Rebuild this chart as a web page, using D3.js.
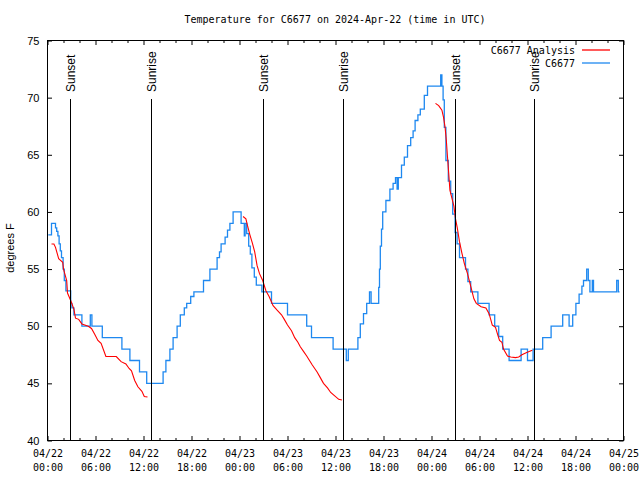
<!DOCTYPE html>
<html><head><meta charset="utf-8">
<script src="https://cdn.jsdelivr.net/npm/d3@7"></script>
<style>body{margin:0;background:#fff}</style>
</head><body>
<svg id="chart" width="640" height="480"></svg>
<script>
// ---- DATA (hours after 2024-04-22 00:00 UTC) ----
const titleText = "Temperature for C6677 on 2024-Apr-22 (time in UTC)";
const yLabel = "degrees F";
const yTicks = [40, 45, 50, 55, 60, 65, 70, 75];
const seriesNames = ["C6677 Analysis", "C6677"];
const seriesColors = ["#ff0000", "#1e88f0"];

const obsHours = [0.1,0.5,1.0,1.15,1.3,1.45,1.6,1.75,1.95,2.1,2.3,2.9,3.05,3.3,4.3,5.35,5.55,6.85,9.3,10.3,11.5,12.4,
  14.45,14.8,15.3,15.7,16.2,16.6,17.1,17.4,17.9,18.3,19.5,20.3,21.2,21.5,21.7,22.2,22.5,22.8,23.2,24.2,24.6,24.7,24.9,
  25.15,25.35,25.55,25.85,26.1,26.8,28.0,30.0,32.4,33.0,35.7,37.35,37.6,38.8,39.1,39.5,39.9,40.25,40.45,41.4,41.5,41.6,
  41.75,41.9,42.3,42.8,43.2,43.5,43.7,43.85,44.25,44.6,45.0,45.4,45.7,45.95,46.3,46.6,47.1,47.5,49.15,49.3,49.45,49.6,
  49.8,50.1,50.4,50.65,50.95,51.2,51.5,52.25,52.55,52.9,53.8,55.2,55.9,56.4,56.9,57.7,59.2,60.0,60.7,61.9,62.95,64.4,
  65.2,65.65,66.05,66.45,66.8,67.0,67.4,67.6,67.8,68.1,68.25,71.15,71.35,71.5];
const obsTemps = [58.0,59.0,58.6,58.3,57.9,57.2,56.6,56.0,55.0,54.0,53.1,52.0,51.6,51.0,50.0,51.0,50.0,49.0,48.0,47.0,46.0,45.0,
  46.0,47.0,48.0,49.0,50.0,51.0,51.6,52.0,52.6,53.0,54.0,55.0,56.0,56.5,57.2,57.8,58.4,59.0,60.0,59.0,57.9,59.0,58.1,
  57.0,56.3,55.1,54.3,53.6,53.0,52.0,51.0,50.0,49.0,48.0,47.0,48.0,49.0,50.2,51.1,52.0,53.0,52.0,53.4,55.0,57.0,
  58.5,60.0,61.0,62.0,62.5,63.0,62.0,63.0,64.1,64.8,65.8,66.5,67.1,68.0,68.5,69.0,70.2,71.0,72.0,71.0,69.8,67.4,
  64.5,62.7,61.6,59.8,58.2,57.2,56.0,55.0,53.9,53.0,52.0,51.0,50.0,49.1,48.0,47.0,48.0,47.0,48.0,49.0,50.0,51.0,
  50.0,51.0,52.0,52.8,53.5,54.0,55.0,54.0,53.0,54.0,53.0,54.0,53.0,53.0];

const anaSeg1Hours = [0.5,0.8,1.0,1.4,1.9,2.0,2.4,2.5,2.9,3.3,3.5,3.9,4.3,5.1,5.5,5.9,6.3,6.7,7.3,8.6,9.2,9.8,10.2,10.5,10.9,11.3,11.8,12.1,12.5];
const anaSeg1Temps = [57.2,57.2,56.9,55.9,55.6,55.0,54.0,52.9,52.25,51.5,50.7,50.6,50.2,50.0,49.8,49.3,48.75,48.5,47.35,47.35,46.9,46.7,46.3,46.1,45.25,44.7,44.3,43.85,43.8];
const anaSeg2Hours = [24.45,24.8,25.0,25.3,25.6,25.9,26.2,26.5,26.9,27.3,27.7,28.2,28.7,29.25,29.6,30.0,30.5,30.9,31.3,31.6,32.0,32.4,33.1,33.7,34.1,34.5,35.0,35.4,35.9,36.4,36.8];
const anaSeg2Temps = [59.6,59.4,58.8,58.0,57.3,56.5,55.3,54.6,54.0,53.1,52.6,51.8,51.4,51.0,50.6,50.1,49.6,49.0,48.6,48.2,47.8,47.4,46.6,46.0,45.5,45.0,44.6,44.2,43.9,43.6,43.55];
const anaSeg3Hours = [48.5,48.9,49.3,49.5,49.7,49.85,50.0,50.15,50.3,50.55,50.8,51.0,51.2,51.5,51.8,52.1,52.5,52.9,53.3,53.6,54.2,54.8,55.2,55.4,55.6,56.0,56.3,56.5,56.8,57.0,57.5,57.9,58.5,58.9,59.3,59.9,60.6];
const anaSeg3Temps = [69.5,69.3,68.9,68.3,67.4,66.3,64.8,63.4,61.9,61.2,60.5,59.4,58.7,57.4,56.4,55.5,54.6,53.5,52.4,52.0,51.7,51.6,51.1,50.6,50.1,49.9,49.2,48.75,48.6,48.0,47.4,47.3,47.25,47.3,47.5,47.7,47.9];

const sunLabels = ["Sunset","Sunrise","Sunset","Sunrise","Sunset","Sunrise"];
const sunHours = [2.75, 12.875, 26.875, 36.875, 50.875, 60.75];

// ---- CHART ----
const t0 = Date.UTC(2024, 3, 22);
const toDate = h => new Date(t0 + h * 3600e3);
const svg = d3.select("#chart");
const L = 47, R = 623, T = 40, B = 440;
const x = d3.scaleUtc().domain([toDate(0), toDate(72)]).range([L + 0.5, R + 0.5]);
const y = d3.scaleLinear().domain([40, 75]).range([B + 0.5, T + 0.5]);

const mono = "'DejaVu Sans Mono', 'Liberation Mono', monospace";
const sans = "'Liberation Sans', Arial, sans-serif";

svg.append("rect").attr("width", 640).attr("height", 480).attr("fill", "#fff");

const majorTicks = d3.range(0, 73, 6).map(toDate);
const minorTicks = d3.range(0, 73, 2).filter(h => h % 6 !== 0).map(toDate);

function styleAxis(g) {
  g.select(".domain").remove();
  g.selectAll("line").attr("stroke", "#000");
}
// bottom
svg.append("g").attr("transform", `translate(0,${B + 0.5})`)
  .call(d3.axisBottom(x).tickValues(minorTicks).tickSizeInner(-2.5).tickSizeOuter(0).tickFormat(""))
  .call(styleAxis);
const gxb = svg.append("g").attr("transform", `translate(0,${B + 0.5})`)
  .call(d3.axisBottom(x).tickValues(majorTicks).tickSizeInner(-4.5).tickSizeOuter(0).tickPadding(9)
    .tickFormat(d3.utcFormat("%m/%d")))
  .call(styleAxis);
gxb.selectAll("text").attr("font-family", mono).attr("font-size", 10).attr("fill", "#000")
  .each(function(d) {
    const t = d3.select(this);
    t.text(null);
    t.append("tspan").attr("x", 0).attr("dy", "0.71em").text(d3.utcFormat("%m/%d")(d));
    t.append("tspan").attr("x", 0).attr("dy", "1.4em").text(d3.utcFormat("%H:%M")(d));
  }).attr("dy", null);
// top
svg.append("g").attr("transform", `translate(0,${T + 0.5})`)
  .call(d3.axisTop(x).tickValues(minorTicks).tickSizeInner(-2.5).tickSizeOuter(0).tickFormat(""))
  .call(styleAxis);
svg.append("g").attr("transform", `translate(0,${T + 0.5})`)
  .call(d3.axisTop(x).tickValues(majorTicks).tickSizeInner(-4.5).tickSizeOuter(0).tickFormat(""))
  .call(styleAxis);
// left
const gyl = svg.append("g").attr("transform", `translate(${L + 0.5},0)`)
  .call(d3.axisLeft(y).tickValues(yTicks).tickSizeInner(-4.5).tickSizeOuter(0).tickPadding(8).tickFormat(d3.format("d")))
  .call(styleAxis);
gyl.selectAll("text").attr("font-family", sans).attr("font-size", 11).attr("fill", "#000");
// right
svg.append("g").attr("transform", `translate(${R + 0.5},0)`)
  .call(d3.axisRight(y).tickValues(yTicks).tickSizeInner(-4.5).tickSizeOuter(0).tickFormat(""))
  .call(styleAxis);

// border
svg.append("rect").attr("x", L + 0.5).attr("y", T + 0.5).attr("width", R - L).attr("height", B - T)
  .attr("fill", "none").attr("stroke", "#000").attr("stroke-width", 1);

// title & y label
svg.append("text").attr("x", 335).attr("y", 23).attr("text-anchor", "middle")
  .attr("font-family", mono).attr("font-size", 10).text(titleText);
svg.append("text").attr("transform", "translate(14,248) rotate(-90)").attr("text-anchor", "middle")
  .attr("font-family", sans).attr("font-size", 11).text(yLabel);

// data
const obs = obsHours.map((h, i) => [toDate(h), obsTemps[i]]);
const segs = [[anaSeg1Hours, anaSeg1Temps], [anaSeg2Hours, anaSeg2Temps], [anaSeg3Hours, anaSeg3Temps]]
  .map(([hs, ts]) => hs.map((h, i) => [toDate(h), ts[i]]));

const stepLine = d3.line().x(d => x(d[0])).y(d => y(d[1])).curve(d3.curveStepAfter);
const linLine = d3.line().x(d => x(d[0])).y(d => y(d[1]));

svg.append("path").datum(obs).attr("d", stepLine).attr("fill", "none")
  .attr("stroke", seriesColors[1]).attr("stroke-width", 1.3);
segs.forEach(s => svg.append("path").datum(s).attr("d", linLine).attr("fill", "none")
  .attr("stroke", seriesColors[0]).attr("stroke-width", 1.1));

// sun lines
sunHours.forEach((h, i) => {
  const xp = Math.round(x(toDate(h))) + 0.5;
  svg.append("line").attr("x1", xp).attr("x2", xp).attr("y1", 99).attr("y2", B)
    .attr("stroke", "#000").attr("stroke-width", 1);
  svg.append("text").attr("transform", `translate(${xp + 4},92) rotate(-90)`)
    .attr("font-family", sans).attr("font-size", 12).text(sunLabels[i]);
});

// legend
const lg = svg.append("g");
seriesNames.forEach((n, i) => {
  const yy = 50 + i * 13;
  lg.append("text").attr("x", 575).attr("y", yy + 3.5).attr("text-anchor", "end")
    .attr("font-family", mono).attr("font-size", 10).text(n);
  lg.append("line").attr("x1", 582).attr("x2", 610).attr("y1", yy).attr("y2", yy)
    .attr("stroke", seriesColors[i]).attr("stroke-width", 1.3);
});
</script>
</body></html>
